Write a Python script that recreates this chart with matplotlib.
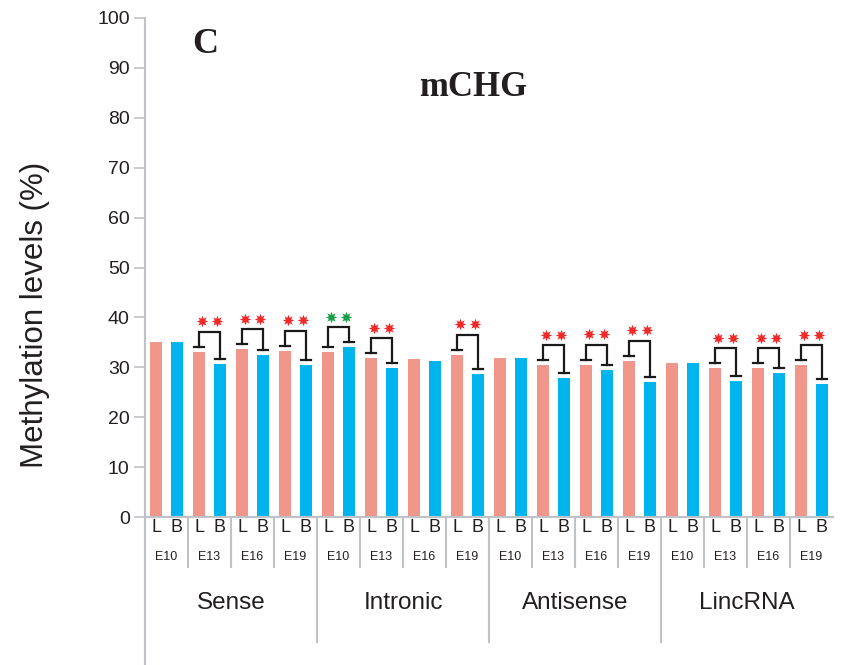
import matplotlib
matplotlib.use("Agg")
import matplotlib.pyplot as plt
from matplotlib.lines import Line2D

categories = ['Sense', 'Intronic', 'Antisense', 'LincRNA']
stages = ['E10', 'E13', 'E16', 'E19']
L_values = [35.0, 33.1, 33.6, 33.3,
            33.1, 31.8, 31.7, 32.5,
            31.9, 30.4, 30.5, 31.3,
            30.8, 29.8, 29.8, 30.4]
B_values = [35.0, 30.7, 32.5, 30.5,
            34.0, 29.8, 31.3, 28.7,
            31.8, 27.8, 29.5, 27.0,
            30.8, 27.3, 28.9, 26.7]
sig_colors = [None, 'red', 'red', 'red',
              'green', 'red', None, 'red',
              None, 'red', 'red', 'red',
              None, 'red', 'red', 'red']
yticks = [0, 10, 20, 30, 40, 50, 60, 70, 80, 90, 100]

C_L = '#F0968A'
C_B = '#00B5EE'
GRAY = '#BFC3C8'
TXT = '#231F20'
STAR = {'red': '#EE2A2A', 'green': '#1AA04A'}

W, H = 848, 665
fig = plt.figure(figsize=(W / 100, H / 100), dpi=100)
ax = fig.add_axes([145 / W, (H - 517) / H, 688 / W, 499 / H])

n = len(L_values)
xs = list(range(n))
xL = [i + 0.256 for i in xs]
xB = [i + 0.744 for i in xs]
bw = 0.28
ax.bar(xL, L_values, width=bw, color=C_L, zorder=2)
ax.bar(xB, B_values, width=bw, color=C_B, zorder=2)

ax.set_xlim(0, n)
ax.set_ylim(0, 100)
ax.set_yticks(yticks)
ax.set_xticks([])
ax.tick_params(axis='y', direction='out', length=8, width=1.2, color=GRAY,
               labelsize=14, labelcolor=TXT, pad=3)
for lab in ax.get_yticklabels():
    lab.set_fontfamily('Liberation Sans')
for s in ['top', 'right']:
    ax.spines[s].set_visible(False)
ax.spines['bottom'].set_color(GRAY)
ax.spines['bottom'].set_linewidth(1.5)
ax.spines['left'].set_visible(False)
# left spine extended below the axes
ax.add_line(Line2D([0, 0], [1.0, -0.297], transform=ax.transAxes, color=GRAY,
                   lw=1.5, clip_on=False))

# brackets and stars
cap = 0.11
for i in xs:
    c = sig_colors[i]
    if c is None:
        continue
    lv, bv = L_values[i], B_values[i]
    top = max(lv, bv) + 4
    ax.plot([xL[i], xL[i], xB[i], xB[i]], [lv + 1, top, top, bv + 1],
            color='#1a1a1a', lw=1.6, zorder=3, solid_joinstyle='miter')
    ax.plot([xL[i] - cap, xL[i] + cap], [lv + 1, lv + 1], color='#1a1a1a', lw=1.6, zorder=3)
    ax.plot([xB[i] - cap, xB[i] + cap], [bv + 1, bv + 1], color='#1a1a1a', lw=1.6, zorder=3)
    ax.scatter([i + 0.5 - 0.163, i + 0.5 + 0.163], [top + 2.1, top + 2.1],
               marker=(8, 1, 0), s=70, color=STAR[c], zorder=4, linewidths=0)

# x-axis labels
tr = ax.get_xaxis_transform()
for i in xs:
    ax.text(xL[i], -0.021, 'L', transform=tr, ha='center', va='center',
            fontsize=13, color=TXT, family='Liberation Sans')
    ax.text(xB[i], -0.021, 'B', transform=tr, ha='center', va='center',
            fontsize=13, color=TXT, family='Liberation Sans')
    ax.text(i + 0.5, -0.081, stages[i % 4], transform=tr, ha='center', va='center',
            fontsize=9, color=TXT, family='Liberation Sans')
    if i > 0:
        bottom = -0.251 if i % 4 == 0 else -0.100
        ax.add_line(Line2D([i, i], [0, bottom], transform=tr, color=GRAY,
                           lw=1.5, clip_on=False))
for k, cat in enumerate(categories):
    ax.text(4 * k + 2, -0.173, cat, transform=tr, ha='center', va='center',
            fontsize=17.5, color=TXT, family='Liberation Sans')

ax.text(0.087, 0.946, 'C', transform=ax.transAxes, ha='center', va='center',
        fontsize=26, fontweight='bold', family='Liberation Serif', color=TXT)
ax.text(0.477, 0.860, 'mCHG', transform=ax.transAxes, ha='center', va='center',
        fontsize=25, fontweight='bold', family='Liberation Serif', color=TXT)

fig.text(35 / W, (H - 315) / H, 'Methylation levels (%)', rotation=90,
         ha='center', va='center', fontsize=22.5, color=TXT, family='Liberation Sans')

fig.savefig('out.png', dpi=100)
